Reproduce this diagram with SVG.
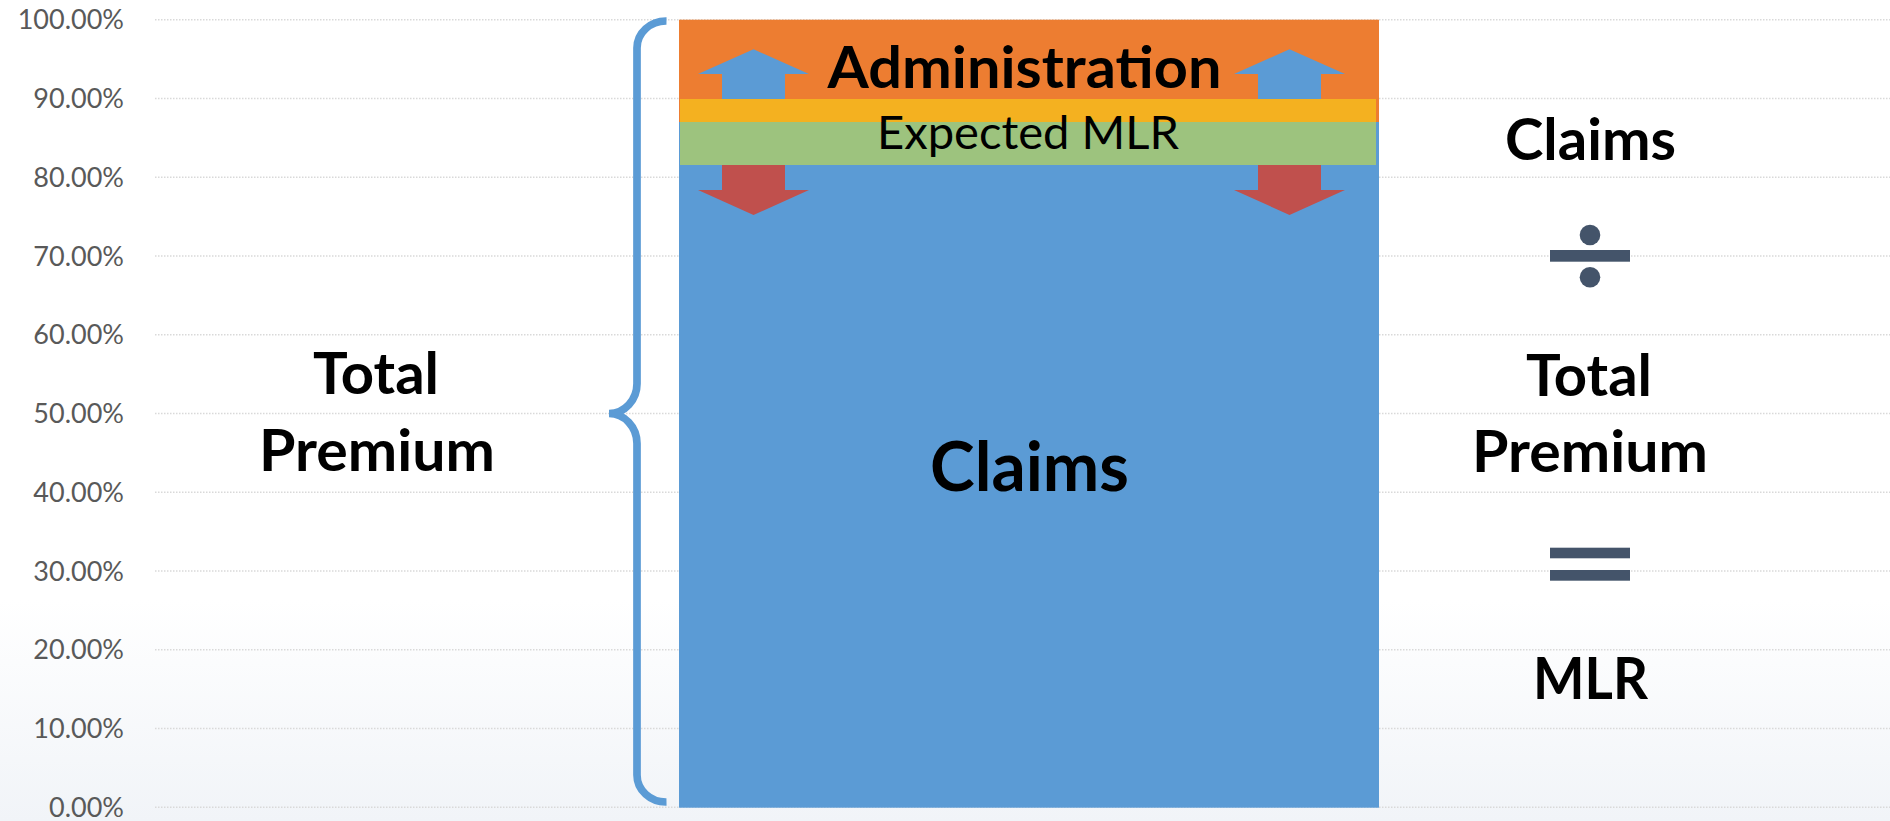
<svg xmlns="http://www.w3.org/2000/svg" xmlns:xlink="http://www.w3.org/1999/xlink" width="1890" height="821" viewBox="0 0 1890 821">
  <style>
    .grid { stroke: #D9D9D9; stroke-width: 1.5; stroke-dasharray: 1.5 1.5; fill: none; }
    .tick { font-family: Lato, "Liberation Sans", sans-serif; font-size: 27px; fill: #595959; text-anchor: end; }
    .big { font-family: Lato, "Liberation Sans", sans-serif; font-weight: bold; font-size: 58px; fill: #000000; text-anchor: middle; }
    .huge { font-family: Lato, "Liberation Sans", sans-serif; font-weight: bold; font-size: 68px; fill: #000000; text-anchor: middle; }
    .band { font-family: Lato, "Liberation Sans", sans-serif; font-size: 46px; fill: #000000; text-anchor: middle; }
    .op { fill: #44546A; }
    .brace { fill: none; stroke: #5B9BD5; stroke-width: 7.7; }
  </style>
  <defs>
    <linearGradient id="bgFade" x1="0" y1="0" x2="0" y2="1">
      <stop offset="0" stop-color="#FFFFFF"/>
      <stop offset="1" stop-color="#F1F4F8"/>
    </linearGradient>
    <path id="upArrow" d="M0,49.3 L55.5,74 L31.5,74 L31.5,99 L-31.5,99 L-31.5,74 L-55.5,74 Z" fill="#5B9BD5"/>
    <path id="downArrow" d="M-31.5,165 L31.5,165 L31.5,190 L55.5,190 L0,215 L-55.5,190 L-31.5,190 Z" fill="#C0504D"/>
  </defs>

  <!-- background -->
  <rect x="0" y="0" width="1890" height="821" fill="#FFFFFF"/>
  <rect x="0" y="600" width="1890" height="221" fill="url(#bgFade)"/>

  <!-- horizontal gridlines, 0% to 100% -->
  <g id="gridlines">
    <line class="grid" x1="155" y1="19.7" x2="1890" y2="19.7"/>
    <line class="grid" x1="155" y1="98.5" x2="1890" y2="98.5"/>
    <line class="grid" x1="155" y1="177.2" x2="1890" y2="177.2"/>
    <line class="grid" x1="155" y1="256" x2="1890" y2="256"/>
    <line class="grid" x1="155" y1="334.7" x2="1890" y2="334.7"/>
    <line class="grid" x1="155" y1="413.5" x2="1890" y2="413.5"/>
    <line class="grid" x1="155" y1="492.2" x2="1890" y2="492.2"/>
    <line class="grid" x1="155" y1="571" x2="1890" y2="571"/>
    <line class="grid" x1="155" y1="649.7" x2="1890" y2="649.7"/>
    <line class="grid" x1="155" y1="728.5" x2="1890" y2="728.5"/>
    <line class="grid" x1="155" y1="807.2" x2="1890" y2="807.2"/>
  </g>

  <!-- value axis labels -->
  <g id="axis-labels">
    <text class="tick" x="124" y="29.3">100.00%</text>
    <text class="tick" x="124" y="108.1">90.00%</text>
    <text class="tick" x="124" y="186.8">80.00%</text>
    <text class="tick" x="124" y="265.6">70.00%</text>
    <text class="tick" x="124" y="344.3">60.00%</text>
    <text class="tick" x="124" y="423.1">50.00%</text>
    <text class="tick" x="124" y="501.8">40.00%</text>
    <text class="tick" x="124" y="580.6">30.00%</text>
    <text class="tick" x="124" y="659.3">20.00%</text>
    <text class="tick" x="124" y="738.1">10.00%</text>
    <text class="tick" x="124" y="816.8">0.00%</text>
  </g>

  <!-- stacked bar -->
  <g id="bar-administration">
    <rect x="679" y="19.7" width="700" height="102.3" fill="#ED7D31"/>
  </g>
  <g id="bar-claims">
    <rect x="679" y="122" width="700" height="685.7" fill="#5B9BD5"/>
    <text class="huge" x="1029.5" y="490.7" textLength="199" lengthAdjust="spacingAndGlyphs">Claims</text>
  </g>
  <g id="bar-expected-mlr">
    <rect x="680" y="99" width="696" height="23" fill="#F4B120"/>
    <rect x="680" y="122" width="696" height="43" fill="#9DC37E"/>
    <text class="band" x="1028" y="149" textLength="302" lengthAdjust="spacingAndGlyphs">Expected MLR</text>
  </g>

  <!-- up / down movement arrows -->
  <g id="connectors">
    <use xlink:href="#upArrow" x="753.5"/>
    <use xlink:href="#upArrow" x="1289.5"/>
    <use xlink:href="#downArrow" x="753.5"/>
    <use xlink:href="#downArrow" x="1289.5"/>
  </g>

  <g id="label-administration">
    <text class="big" x="1024.5" y="88" textLength="394" lengthAdjust="spacingAndGlyphs">Administration</text>
  </g>

  <!-- curly brace spanning the whole bar -->
  <g id="brace">
    <path class="brace" d="M666.5,21 A29,27 0 0 0 637,48 L637,383 A28,30 0 0 1 609,413.5 A28,30 0 0 1 637,443.5 L637,775 A29,27 0 0 0 666.5,802"/>
  </g>

  <g id="label-total-premium">
    <text class="big" x="376" y="394" textLength="126" lengthAdjust="spacingAndGlyphs">Total</text>
    <text class="big" x="377" y="470.7" textLength="236" lengthAdjust="spacingAndGlyphs">Premium</text>
  </g>

  <!-- formula: Claims / Total Premium = MLR -->
  <g id="formula-claims">
    <text class="big" x="1590.5" y="160" textLength="171" lengthAdjust="spacingAndGlyphs">Claims</text>
  </g>
  <g id="formula-divide">
    <circle class="op" cx="1590" cy="235" r="10.3"/>
    <rect class="op" x="1550" y="250" width="80" height="11.7"/>
    <circle class="op" cx="1590" cy="277.3" r="10.3"/>
  </g>
  <g id="formula-total-premium">
    <text class="big" x="1589" y="395.7" textLength="126" lengthAdjust="spacingAndGlyphs">Total</text>
    <text class="big" x="1590" y="471.7" textLength="236" lengthAdjust="spacingAndGlyphs">Premium</text>
  </g>
  <g id="formula-equals">
    <rect class="op" x="1550" y="547.7" width="80" height="10.6"/>
    <rect class="op" x="1550" y="570" width="80" height="10.7"/>
  </g>
  <g id="formula-mlr">
    <text class="big" x="1590.5" y="699.3" textLength="115" lengthAdjust="spacingAndGlyphs">MLR</text>
  </g>
</svg>
